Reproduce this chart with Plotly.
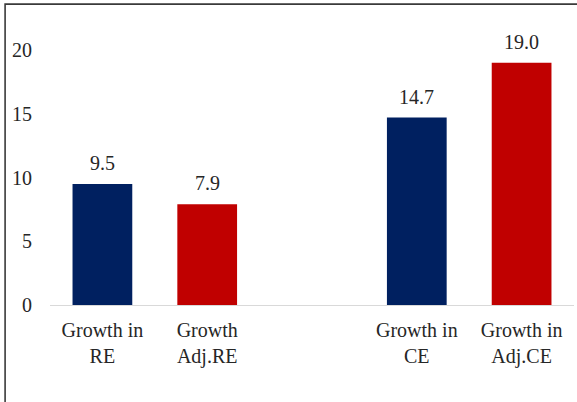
import plotly.graph_objects as go

categories = ["Growth in<br>RE", "Growth<br>Adj.RE", "Growth in<br>CE", "Growth in<br>Adj.CE"]
positions = [0, 1, 3, 4]
values = [9.5, 7.9, 14.7, 19.0]
colors = ["#002060", "#C00000", "#002060", "#C00000"]
y_ticks = [0, 5, 10, 15, 20]

FONT = "Liberation Serif"
TXT = "#262626"
FS = 20

fig = go.Figure()
fig.add_trace(go.Bar(
    x=positions, y=values, marker=dict(color=colors, line=dict(width=0)),
    width=0.57, showlegend=False, hoverinfo="skip",
))

for xp, v in zip(positions, values):
    fig.add_annotation(x=xp, y=v, text=f"{v:.1f}", showarrow=False,
                       yanchor="bottom", yshift=8,
                       font=dict(family=FONT, size=FS, color=TXT))

# outer frame (extends beyond the window on right and bottom)
fig.add_shape(type="rect", xref="paper", yref="paper",
              x0=-0.0857, x1=1.2, y0=-0.6, y1=1.18,
              line=dict(color="#3a3a3a", width=1.6), fillcolor="rgba(0,0,0,0)",
              layer="above")

fig.update_layout(
    width=577, height=402,
    margin=dict(l=49.5, r=2.5, t=50, b=97),
    paper_bgcolor="white", plot_bgcolor="white",
    font=dict(family=FONT, size=FS, color=TXT),
    bargap=0.43,
    xaxis=dict(
        range=[-0.5, 4.5], tickmode="array", tickvals=positions, ticktext=categories,
        showgrid=False, zeroline=False, showline=True, linecolor="#d9d9d9", linewidth=1.3,
        ticks="", ticklabelstandoff=7, tickfont=dict(family=FONT, size=FS, color=TXT),
        fixedrange=True,
    ),
    yaxis=dict(
        range=[0, 20], tickmode="array", tickvals=y_ticks,
        showgrid=False, zeroline=False, showline=False, ticks="",
        ticklabelstandoff=17, tickfont=dict(family=FONT, size=FS, color=TXT),
        fixedrange=True,
    ),
)

fig.write_html("out.html")
